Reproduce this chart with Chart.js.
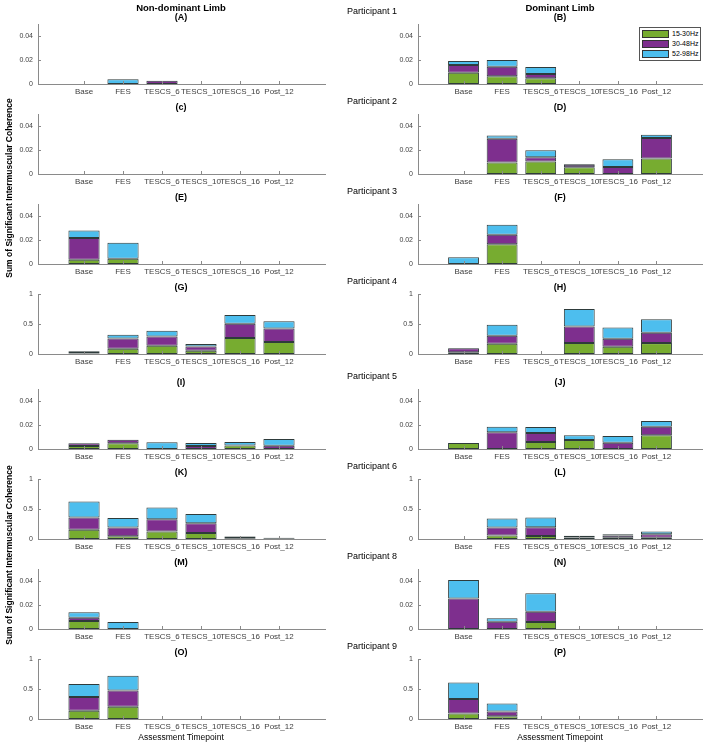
<!DOCTYPE html>
<html>
<head>
<meta charset="utf-8">
<title>Intermuscular coherence</title>
<script src="https://cdn.jsdelivr.net/npm/chart.js@4.4.1/dist/chart.umd.min.js"></script>
<style>
  body { margin: 0; background: #fff; }
  #fig { position: relative; width: 709px; height: 744px; overflow: hidden;
         font-family: Arial, "Liberation Sans", sans-serif; color: #000; }
  .lbl { position: absolute; white-space: nowrap; transform: translate(-50%, -50%); }
  .bold { font-weight: bold; }
  .panel { position: absolute; }
  .ylab { position: absolute; white-space: nowrap; font-weight: bold; font-size: 8.5px;
          transform: translate(-50%, -50%) rotate(-90deg); }
  #legend { position: absolute; left: 639px; top: 27px; width: 60px; height: 32px;
            border: 1px solid #555; background: #fff; font-size: 7px; z-index: 5; }
  #legend div { display: flex; align-items: center; height: 9px; margin-top: 1px; }
  #legend span.sw { display: inline-block; width: 25px; height: 6px; margin: 0 3px 0 2px;
                    border: 1px solid #333; }
</style>
</head>
<body>
<div id="fig"></div>
<script>
// x categories and legend labels
const timepoints = ['Base', 'FES', 'TESCS_6', 'TESCS_10', 'TESCS_16', 'Post_12'];
const bandNames = ['15-30Hz', '30-48Hz', '52-98Hz'];
const participants = ['Participant 1', 'Participant 2', 'Participant 3', 'Participant 4',
                      'Participant 5', 'Participant 6', 'Participant 8', 'Participant 9'];
const smallTicks = [0, 0.02, 0.04];
const largeTicks = [0, 0.5, 1];
const smallMax = 0.05;
const largeMax = 1;

// one panel = three bands (15-30, 30-48, 52-98 Hz) per timepoint
// Participant 1
const lowA  = [0, 0, 0, 0, 0, 0];
const midA  = [0, 0, 0.0028, 0, 0, 0];
const highA = [0, 0.0039, 0, 0, 0, 0];
const lowB  = [0.0094, 0.0064, 0.0047, 0, 0, 0];
const midB  = [0.0064, 0.008, 0.0036, 0, 0, 0];
const highB = [0.0034, 0.0056, 0.0059, 0, 0, 0];
// Participant 2
const lowC  = [0, 0, 0, 0, 0, 0];
const midC  = [0, 0, 0, 0, 0, 0];
const highC = [0, 0, 0, 0, 0, 0];
const lowD  = [0, 0.0095, 0.0105, 0.0056, 0, 0.013];
const midD  = [0, 0.0199, 0.0034, 0.0022, 0.0058, 0.017];
const highD = [0, 0.0026, 0.0058, 0.0005, 0.0064, 0.0028];
// Participant 3
const lowE  = [0.0036, 0.0044, 0, 0, 0, 0];
const midE  = [0.0181, 0, 0, 0, 0, 0];
const highE = [0.0063, 0.0134, 0, 0, 0, 0];
const lowF  = [0, 0.0164, 0, 0, 0, 0];
const midF  = [0, 0.008, 0, 0, 0, 0];
const highF = [0.0056, 0.0084, 0, 0, 0, 0];
// Participant 4
const lowG  = [0.008, 0.088, 0.138, 0.055, 0.265, 0.199];
const midG  = [0.027, 0.172, 0.155, 0.072, 0.238, 0.226];
const highG = [0.01, 0.06, 0.094, 0.039, 0.149, 0.122];
const lowH  = [0.028, 0.171, 0, 0.182, 0.122, 0.182];
const midH  = [0.066, 0.133, 0, 0.277, 0.132, 0.172];
const highH = [0.004, 0.182, 0, 0.292, 0.188, 0.226];
// Participant 5
const lowI  = [0.0025, 0.0047, 0, 0, 0.003, 0];
const midI  = [0.0022, 0.0031, 0, 0.0025, 0, 0.0028];
const highI = [0, 0, 0.0056, 0.0025, 0.0028, 0.0055];
const lowJ  = [0.005, 0, 0.0058, 0.0075, 0, 0.0114];
const midJ  = [0, 0.0139, 0.0075, 0, 0.0053, 0.0072];
const highJ = [0, 0.0047, 0.005, 0.0039, 0.0055, 0.0047];
// Participant 6
const lowK  = [0.153, 0.044, 0.126, 0.098, 0.005, 0.002];
const midK  = [0.207, 0.146, 0.202, 0.164, 0.032, 0.01];
const highK = [0.263, 0.16, 0.197, 0.153, 0.01, 0.008];
const lowL  = [0, 0.06, 0.05, 0.025, 0.02, 0.02];
const midL  = [0, 0.13, 0.147, 0.01, 0.04, 0.06];
const highL = [0, 0.15, 0.163, 0.02, 0.02, 0.045];
// Participant 8
const lowM  = [0.0066, 0, 0, 0, 0, 0];
const midM  = [0.0028, 0, 0, 0, 0, 0];
const highM = [0.0046, 0.0058, 0, 0, 0, 0];
const lowN  = [0, 0, 0.0058, 0, 0, 0];
const midN  = [0.0255, 0.0061, 0.0086, 0, 0, 0];
const highN = [0.0153, 0.0028, 0.0153, 0, 0, 0];
// Participant 9
const lowO  = [0.137, 0.203, 0, 0, 0, 0];
const midO  = [0.231, 0.27, 0, 0, 0, 0];
const highO = [0.214, 0.247, 0, 0, 0, 0];
const lowP  = [0.093, 0.044, 0, 0, 0, 0];
const midP  = [0.242, 0.082, 0, 0, 0, 0];
const highP = [0.275, 0.134, 0, 0, 0, 0];

const bandColors = ['#77AC30', '#7E2F8E', '#4DBEEE'];
const axisGrey = '#8a8a8a';

const panels = [
  ['(A)', [lowA, midA, highA], smallMax, smallTicks],
  ['(B)', [lowB, midB, highB], smallMax, smallTicks],
  ['(c)', [lowC, midC, highC], smallMax, smallTicks],
  ['(D)', [lowD, midD, highD], smallMax, smallTicks],
  ['(E)', [lowE, midE, highE], smallMax, smallTicks],
  ['(F)', [lowF, midF, highF], smallMax, smallTicks],
  ['(G)', [lowG, midG, highG], largeMax, largeTicks],
  ['(H)', [lowH, midH, highH], largeMax, largeTicks],
  ['(I)', [lowI, midI, highI], smallMax, smallTicks],
  ['(J)', [lowJ, midJ, highJ], smallMax, smallTicks],
  ['(K)', [lowK, midK, highK], largeMax, largeTicks],
  ['(L)', [lowL, midL, highL], largeMax, largeTicks],
  ['(M)', [lowM, midM, highM], smallMax, smallTicks],
  ['(N)', [lowN, midN, highN], smallMax, smallTicks],
  ['(O)', [lowO, midO, highO], largeMax, largeTicks],
  ['(P)', [lowP, midP, highP], largeMax, largeTicks]
];

const fig = document.getElementById('fig');

function addText(txt, x, y, size, cls) {
  const d = document.createElement('div');
  d.className = 'lbl ' + (cls || '');
  d.style.left = x + 'px';
  d.style.top = y + 'px';
  d.style.fontSize = size + 'px';
  d.textContent = txt;
  fig.appendChild(d);
  return d;
}

// MATLAB style ticks pointing into the axes
const innerTicks = {
  id: 'innerTicks',
  afterDraw(chart) {
    const { ctx, chartArea: a } = chart;
    const x = chart.scales.x, y = chart.scales.y;
    ctx.save();
    ctx.strokeStyle = axisGrey;
    ctx.lineWidth = 1;
    ctx.beginPath();
    x.ticks.forEach(t => {
      const px = Math.round(x.getPixelForValue(t.value)) + 0.5;
      ctx.moveTo(px, a.bottom);
      ctx.lineTo(px, a.bottom - 3);
    });
    y.ticks.forEach(t => {
      const py = Math.round(y.getPixelForValue(t.value)) + 0.5;
      ctx.moveTo(a.left, py);
      ctx.lineTo(a.left + 3, py);
    });
    ctx.stroke();
    ctx.restore();
  }
};

function zeroLine(row) {
  return 84 + row * 90 + (row >= 4 ? 5 : 0);
}

panels.forEach((p, i) => {
  const [title, bands, ymax, yTicks] = p;
  const col = i % 2, row = Math.floor(i / 2);
  const y0 = zeroLine(row);
  const left = col ? 380 : 0;
  const w = col ? 327 : 335;
  const h = 92;

  const wrap = document.createElement('div');
  wrap.className = 'panel';
  wrap.style.left = left + 'px';
  wrap.style.top = (y0 - 74) + 'px';
  const cv = document.createElement('canvas');
  cv.width = w;
  cv.height = h;
  wrap.appendChild(cv);
  fig.appendChild(wrap);

  addText(title, col ? 560 : 181, y0 - 67, 9, 'bold');

  const datasets = bands.map((vals, b) => ({
    label: bandNames[b],
    data: vals.map((v, k) => ({ x: k + 1, y: v === 0 ? null : v })),
    backgroundColor: bandColors[b],
    borderColor: '#2e3b3b',
    borderWidth: 1,
    borderSkipped: false,
    barPercentage: 0.8,
    categoryPercentage: 1
  }));

  new Chart(cv, {
    type: 'bar',
    data: { datasets },
    plugins: [innerTicks],
    options: {
      responsive: false,
      animation: false,
      devicePixelRatio: 1,
      layout: { padding: { top: 14, right: col ? 5 : 10, left: 0, bottom: 0 } },
      plugins: { legend: { display: false }, tooltip: { enabled: false } },
      scales: {
        x: {
          type: 'linear',
          stacked: true,
          offset: false,
          min: -0.18,
          max: 7.18,
          grid: { display: false, drawTicks: false, offset: false },
          border: { display: true, color: axisGrey, width: 1 },
          afterBuildTicks: s => { s.ticks = timepoints.map((_, k) => ({ value: k + 1 })); },
          afterFit: s => { s.height = 18; },
          ticks: {
            autoSkip: false,
            maxRotation: 0,
            padding: 3,
            color: '#404040',
            font: { size: 8, family: 'Arial, "Liberation Sans"' },
            callback: v => timepoints[v - 1]
          }
        },
        y: {
          stacked: true,
          min: 0,
          max: ymax,
          grid: { display: false, drawTicks: false },
          border: { display: true, color: axisGrey, width: 1 },
          afterBuildTicks: s => { s.ticks = yTicks.map(v => ({ value: v })); },
          afterFit: s => { s.width = 38; },
          ticks: {
            padding: 5,
            color: '#404040',
            font: { size: 7, family: 'Arial, "Liberation Sans"' },
            callback: v => String(v)
          }
        }
      }
    }
  });
});

// column headers, participant labels, axis titles
addText('Non-dominant Limb', 181, 7, 9.5, 'bold');
addText('Dominant Limb', 560, 7, 9.5, 'bold');
participants.forEach((name, r) => {
  const d = addText(name, 347, zeroLine(r) - 73, 9);
  d.style.transform = 'translate(0, -50%)';
});
addText('Assessment Timepoint', 181, 737, 8.5);
addText('Assessment Timepoint', 560, 737, 8.5);
['Sum of Significant Intermuscular Coherence', 'Sum of Significant Intermuscular Coherence']
  .forEach((t, k) => {
    const d = document.createElement('div');
    d.className = 'ylab';
    d.style.left = '9px';
    d.style.top = (k ? 555 : 188) + 'px';
    d.textContent = t;
    fig.appendChild(d);
  });

// legend inside panel B
const legend = document.createElement('div');
legend.id = 'legend';
bandNames.forEach((n, b) => {
  const row = document.createElement('div');
  const sw = document.createElement('span');
  sw.className = 'sw';
  sw.style.background = bandColors[b];
  row.appendChild(sw);
  row.appendChild(document.createTextNode(n));
  legend.appendChild(row);
});
fig.appendChild(legend);
</script>
</body>
</html>
